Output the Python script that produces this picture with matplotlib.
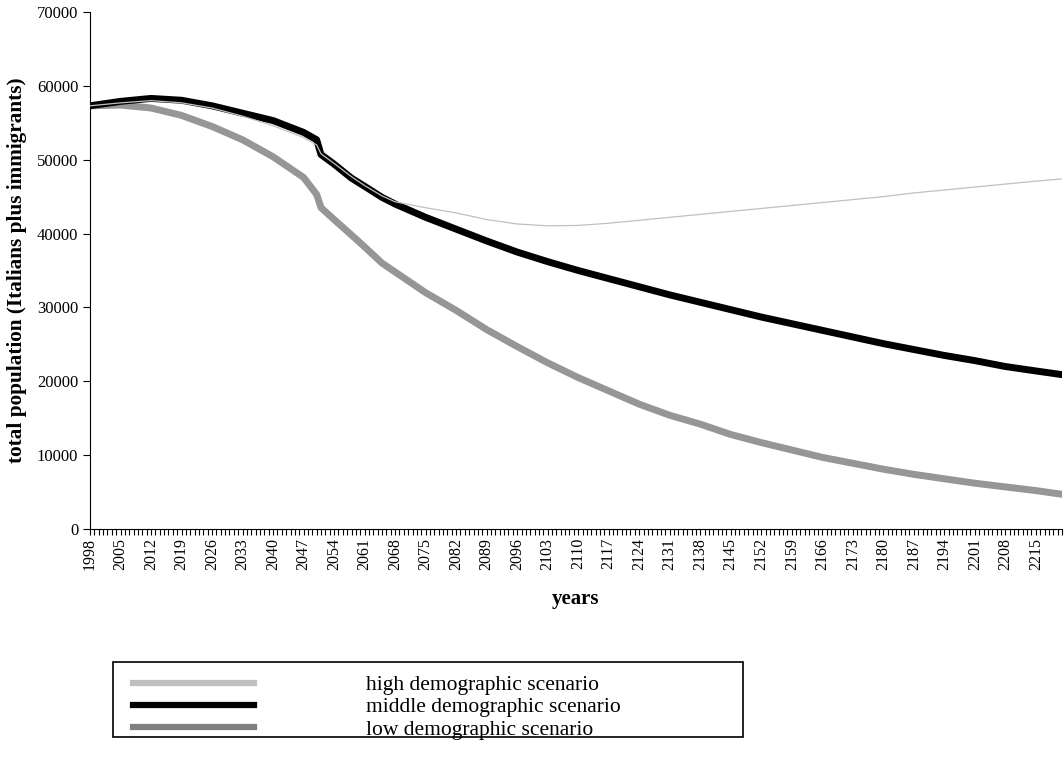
import numpy as np
import matplotlib.pyplot as plt
from matplotlib.lines import Line2D
from matplotlib.patches import Rectangle

plt.rcParams['font.family'] = ['Liberation Serif', 'DejaVu Serif']

# values read at the labelled years (plus a few extra around the 2050/2051 break)
years = [1998, 2005, 2012, 2019, 2026, 2033, 2040, 2047, 2050, 2051, 2054,
         2058, 2061, 2065, 2068, 2075, 2082, 2089, 2096, 2103, 2110, 2117, 2124, 2131,
         2138, 2145, 2152, 2159, 2166, 2173, 2180, 2187, 2194, 2201, 2208,
         2215, 2221]
high = [57300, 57700, 58000, 57700, 57000, 55900, 54600, 53000, 52000, 50800, 49500,
        47700, 46500, 45100, 44300, 43500, 42800, 41900, 41300, 41050, 41100, 41400, 41800, 42200,
        42600, 43000, 43400, 43800, 44200, 44600, 45000, 45500, 45900, 46300, 46700,
        47100, 47400]
middle = [57300, 57900, 58300, 58050, 57300, 56300, 55300, 53700, 52700, 50700, 49400,
          47500, 46400, 44900, 44000, 42200, 40600, 39000, 37500, 36200, 35000, 33900, 32800, 31700,
          30700, 29700, 28700, 27800, 26900, 26000, 25100, 24300, 23500, 22800, 22000,
          21400, 20900]
low = [57300, 57400, 57000, 56000, 54500, 52700, 50400, 47600, 45300, 43500, 41900,
       39800, 38200, 36000, 34800, 32000, 29600, 27000, 24700, 22500, 20500, 18700, 16900, 15400,
       14200, 12800, 11700, 10700, 9700, 8900, 8100, 7400, 6800, 6200, 5700,
       5200, 4700]
labels = ['high demographic scenario', 'middle demographic scenario', 'low demographic scenario']
colors = ['#c0c0c0', '#000000', '#969696']

fig = plt.figure(figsize=(10.64, 7.63), dpi=100)
ax = fig.add_axes([90/1064, 1-529/763, 972/1064, 517/763])

ax.plot(years, high, color=colors[0], lw=0.9, zorder=3)
ax.plot(years, low, color=colors[2], lw=5, solid_capstyle='round', solid_joinstyle='round', zorder=2)
ax.plot(years, middle, color=colors[1], lw=5, solid_capstyle='round', solid_joinstyle='round', zorder=2)

ax.set_xlim(1998, 2221)
ax.set_ylim(0, 70000)
ax.set_yticks(range(0, 70001, 10000))
all_years = np.arange(1998, 2222)
ax.set_xticks(all_years)
ax.set_xticklabels([str(y) if (y - 1998) % 7 == 0 else '' for y in all_years],
                   rotation=90, fontsize=11.5)
ax.tick_params(axis='x', length=4.5, width=0.8, pad=2)
ax.tick_params(axis='y', length=5, width=0.8, labelsize=12)
for s in ['top', 'right']:
    ax.spines[s].set_visible(False)
ax.set_ylabel('total population (Italians plus immigrants)', fontsize=15.3, fontweight='bold', labelpad=7)
ax.set_xlabel('years', fontsize=15, fontweight='bold', labelpad=14)

# legend
handles = [Line2D([], [], color=colors[0], lw=4.5),
           Line2D([], [], color=colors[1], lw=4.5),
           Line2D([], [], color='#808080', lw=4.5)]
fig.legend(handles, labels, loc='upper left', bbox_to_anchor=(118/1064, 1-660/763),
           frameon=False, fontsize=15.5, handlelength=5.6, handletextpad=5.2,
           labelspacing=0.1, borderpad=0.2)
fig.add_artist(Rectangle((113/1064, 1-737/763), 630/1064, 75/763, transform=fig.transFigure,
                         fill=False, edgecolor='black', lw=1.2))

fig.savefig('out.png', dpi=100)
